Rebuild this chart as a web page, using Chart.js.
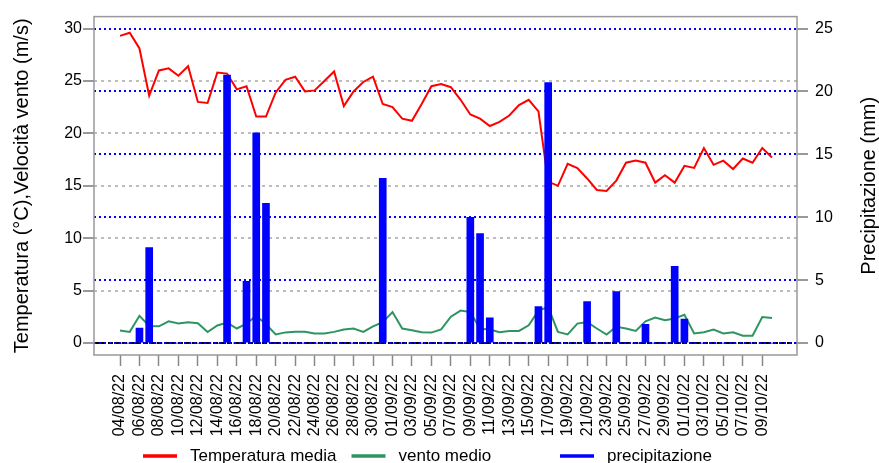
<!DOCTYPE html>
<html>
<head>
<meta charset="utf-8">
<script src="https://cdn.jsdelivr.net/npm/chart.js@4.4.0/dist/chart.umd.min.js"></script>
<style>
  html, body { margin: 0; padding: 0; background: #fff; }
  #wrap { width: 879px; height: 463px; }
</style>
</head>
<body>
<div id="wrap"><canvas id="meteo"></canvas></div>
<script>
// daily data 04/08/22 - 10/10/22
const dates = [
  '04/08/22','05/08/22','06/08/22','07/08/22','08/08/22','09/08/22','10/08/22','11/08/22','12/08/22','13/08/22',
  '14/08/22','15/08/22','16/08/22','17/08/22','18/08/22','19/08/22','20/08/22','21/08/22','22/08/22','23/08/22',
  '24/08/22','25/08/22','26/08/22','27/08/22','28/08/22','29/08/22','30/08/22','31/08/22','01/09/22','02/09/22',
  '03/09/22','04/09/22','05/09/22','06/09/22','07/09/22','08/09/22','09/09/22','10/09/22','11/09/22','12/09/22',
  '13/09/22','14/09/22','15/09/22','16/09/22','17/09/22','18/09/22','19/09/22','20/09/22','21/09/22','22/09/22',
  '23/09/22','24/09/22','25/09/22','26/09/22','27/09/22','28/09/22','29/09/22','30/09/22','01/10/22','02/10/22',
  '03/10/22','04/10/22','05/10/22','06/10/22','07/10/22','08/10/22','09/10/22','10/10/22'
];
const tempMedia = [
  29.3, 29.6, 28.1, 23.6, 26.0, 26.2, 25.5, 26.4, 23.0, 22.9,
  25.8, 25.7, 24.2, 24.5, 21.6, 21.6, 23.9, 25.1, 25.4, 24.0,
  24.1, 25.0, 25.9, 22.6, 24.0, 24.9, 25.4, 22.8, 22.5, 21.4,
  21.2, 22.8, 24.5, 24.7, 24.4, 23.2, 21.8, 21.4, 20.7, 21.1,
  21.7, 22.7, 23.2, 22.1, 15.4, 15.0, 17.1, 16.7, 15.7, 14.6,
  14.5, 15.5, 17.2, 17.4, 17.2, 15.3, 16.0, 15.3, 16.9, 16.7,
  18.6, 17.0, 17.4, 16.6, 17.6, 17.2, 18.6, 17.7
];
const ventoMedio = [
  1.2, 1.07, 2.6, 1.64, 1.6, 2.08, 1.86, 1.99, 1.89, 1.05,
  1.68, 1.96, 1.39, 1.86, 2.6, 1.8, 0.82, 1.02, 1.07, 1.07,
  0.92, 0.92, 1.07, 1.3, 1.39, 1.07, 1.6, 2.0, 2.96, 1.39,
  1.23, 1.04, 1.0, 1.3, 2.52, 3.1, 2.96, 1.36, 1.3, 1.04,
  1.16, 1.16, 1.7, 3.1, 3.43, 1.07, 0.82, 1.86, 2.0, 1.39,
  0.82, 1.55, 1.39, 1.16, 2.08, 2.43, 2.18, 2.34, 2.7, 0.92,
  1.04, 1.3, 0.92, 1.04, 0.7, 0.7, 2.49, 2.4
];
const precipitazione = [
  0, 0, 1.2, 7.6, 0, 0, 0, 0, 0, 0,
  0, 21.3, 0, 4.9, 16.7, 11.1, 0, 0, 0, 0,
  0, 0, 0, 0, 0, 0, 0, 13.1, 0, 0,
  0, 0, 0, 0, 0, 0, 10.0, 8.7, 2.0, 0,
  0, 0, 0, 2.9, 20.7, 0, 0, 0, 3.3, 0,
  0, 4.1, 0, 0, 1.5, 0, 0, 6.1, 1.9, 0,
  0, 0, 0, 0, 0, 0, 0, 0
];
const leftTicks = [0, 5, 10, 15, 20, 25, 30];
const rightTicks = [0, 5, 10, 15, 20, 25];
const dateTicks = dates.map((d, i) => i).filter(i => i % 2 === 0);

const FONT = 'Liberation Sans, Arial, sans-serif';
const pts = arr => arr.map((v, i) => ({ x: i, y: v }));

// box, zero line, axis titles and legend (R style)
const extras = {
  id: 'extras',
  beforeDraw(chart) {
    const { ctx, chartArea: a } = chart;
    const y0 = chart.scales.y.getPixelForValue(0);
    ctx.save();
    ctx.strokeStyle = '#000';
    ctx.lineWidth = 2;
    ctx.setLineDash([5, 2]);
    ctx.beginPath();
    ctx.moveTo(a.left, y0);
    ctx.lineTo(a.right, y0);
    ctx.stroke();
    ctx.restore();
  },
  afterDraw(chart) {
    const { ctx, chartArea: a } = chart;
    ctx.save();
    ctx.strokeStyle = '#999';
    ctx.lineWidth = 1.5;
    ctx.strokeRect(a.left, a.top, a.right - a.left, a.bottom - a.top);

    // axis titles, both read bottom to top
    ctx.fillStyle = '#000';
    ctx.font = '20px ' + FONT;
    ctx.textAlign = 'center';
    ctx.textBaseline = 'middle';
    const cy = (a.top + a.bottom) / 2;
    ctx.save();
    ctx.translate(22, cy);
    ctx.rotate(-Math.PI / 2);
    ctx.fillText('Temperatura (°C),Velocità vento (m/s)', 0, 0);
    ctx.restore();
    ctx.save();
    ctx.translate(869, cy);
    ctx.rotate(-Math.PI / 2);
    ctx.fillText('Precipitazione (mm)', 0, 0);
    ctx.restore();

    // legend in equal columns
    ctx.font = '17px ' + FONT;
    ctx.textAlign = 'left';
    chart.data.datasets.slice().sort((p, q) => p.legendPos - q.legendPos).forEach((ds, k) => {
      const x0 = 143 + 208.5 * k;
      ctx.strokeStyle = ds.borderColor || ds.backgroundColor;
      ctx.lineWidth = 3.5;
      ctx.beginPath();
      ctx.moveTo(x0, 456);
      ctx.lineTo(x0 + 34, 456);
      ctx.stroke();
      ctx.fillText(ds.label, x0 + 47, 456);
    });
    ctx.restore();
  }
};

new Chart(document.getElementById('meteo'), {
  data: {
    datasets: [
      {
        type: 'bar', label: 'precipitazione', legendPos: 2, yAxisID: 'y1',
        data: pts(precipitazione), backgroundColor: '#0000ff', borderColor: '#0000ff',
        borderWidth: 0, barThickness: 7, order: 0
      },
      {
        type: 'line', label: 'vento medio', legendPos: 1, yAxisID: 'y',
        data: pts(ventoMedio), borderColor: '#2e9560', borderWidth: 2,
        pointRadius: 0, tension: 0, order: 1
      },
      {
        type: 'line', label: 'Temperatura media', legendPos: 0, yAxisID: 'y',
        data: pts(tempMedia), borderColor: '#ff0000', borderWidth: 2,
        pointRadius: 0, tension: 0, order: 2
      }
    ]
  },
  options: {
    responsive: true,
    maintainAspectRatio: false,
    animation: false,
    layout: { padding: { top: 14 } },
    plugins: { legend: { display: false }, tooltip: { enabled: false } },
    scales: {
      x: {
        type: 'linear', min: -2.672, max: 69.569, offset: false,
        afterBuildTicks: s => { s.ticks = dateTicks.map(v => ({ value: v })); },
        ticks: {
          callback: v => dates[v], autoSkip: false, minRotation: 90, maxRotation: 90,
          font: { size: 16, family: FONT }, color: '#000', padding: 8
        },
        grid: { offset: false, drawOnChartArea: false, tickLength: 11, tickColor: '#888', tickWidth: 1.5 },
        border: { display: false },
        afterFit: s => { s.height = 108; }
      },
      y: {
        position: 'left', min: -1.1356, max: 31.1356,
        afterBuildTicks: s => { s.ticks = leftTicks.map(v => ({ value: v })); },
        ticks: { font: { size: 16, family: FONT }, color: '#000', padding: 1 },
        grid: {
          color: c => (c.tick && (c.tick.value === 0 || c.tick.value === 30)) ? 'rgba(0,0,0,0)' : '#bdbdbd',
          lineWidth: 2, tickLength: 11, tickColor: '#777', tickWidth: 1.5, tickBorderDash: []
        },
        border: { display: false, dash: [3, 4] },
        afterFit: s => { s.width = 94; }
      },
      y1: {
        position: 'right', min: -0.9464, max: 25.946,
        afterBuildTicks: s => { s.ticks = rightTicks.map(v => ({ value: v })); },
        ticks: { font: { size: 16, family: FONT }, color: '#000', padding: 7 },
        grid: {
          color: '#0000ff', lineWidth: 2, tickLength: 11, tickColor: '#777', tickWidth: 1.5, tickBorderDash: []
        },
        border: { display: false, dash: [2, 3] },
        afterFit: s => { s.width = 82; }
      }
    }
  },
  plugins: [extras]
});
</script>
</body>
</html>
